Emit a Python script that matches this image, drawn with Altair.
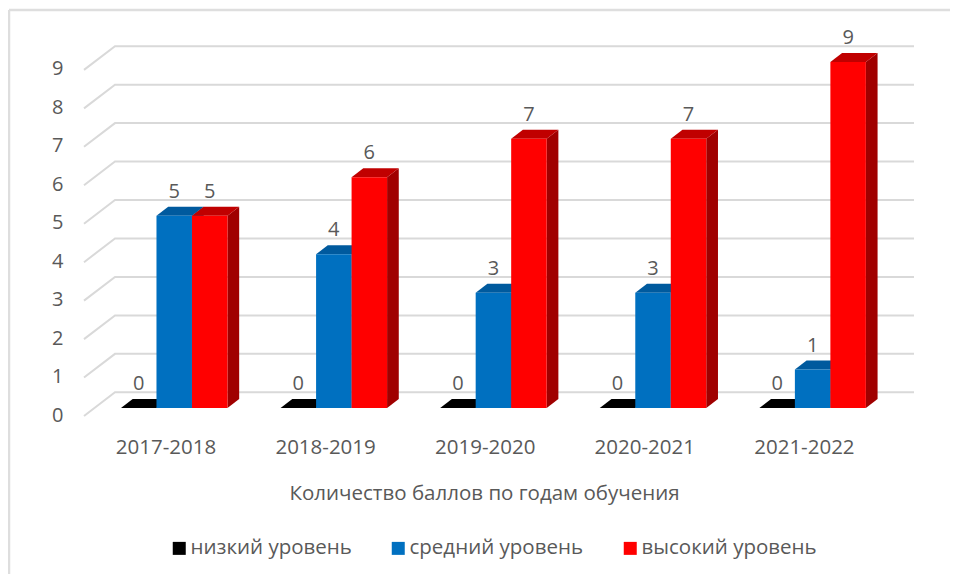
import altair as alt
import pandas as pd

years = ["2017-2018", "2018-2019", "2019-2020", "2020-2021", "2021-2022"]
series = ["низкий уровень", "средний уровень", "высокий уровень"]
low = [0, 0, 0, 0, 0]
mid = [5, 4, 3, 3, 1]
high = [5, 6, 7, 7, 9]
front_colors = ["#000000", "#0070C0", "#FF0000"]
top_colors = ["#000000", "#005A9E", "#C00000"]
side_colors = ["#000000", "#004F8C", "#A00000"]
levels = list(range(10))
FONT = "Open Sans"
TXT = "#595959"

PITCH = 159.6
UNIT = 38.45
dx = 11.7 / PITCH
dy = 9.0 / UNIT
bw = 35.5 / PITCH
start = -0.279
XMIN, XMAX = -0.5107, 4.6898
YMIN, YMAX = -0.208, 10.09
xs = alt.Scale(domain=[XMIN, XMAX], nice=False, zero=False)
ys = alt.Scale(domain=[YMIN, YMAX], nice=False, zero=False)

# outer frame of the picture: top and left edges only
frame_top = alt.Chart(pd.DataFrame({"a": [0]})).mark_rule(color="#DEDEDE", strokeWidth=2.5).encode(
    x=alt.value(-75), x2=alt.value(866), y=alt.value(-10))
frame_left = alt.Chart(pd.DataFrame({"a": [0]})).mark_rule(color="#DEDEDE", strokeWidth=2.5).encode(
    x=alt.value(-75), y=alt.value(-10), y2=alt.value(554))

# gridlines: side wall + back wall
gr = []
wall_x = XMIN + 31 / PITCH
wall_up = 15.7 / UNIT
for v in levels:
    gr += [dict(k=v, x=XMIN, y=v - 8 / UNIT), dict(k=v, x=wall_x, y=v + wall_up), dict(k=v, x=XMAX, y=v + wall_up)]
grid = alt.Chart(pd.DataFrame(gr)).mark_line(color="#D9D9D9", strokeWidth=2).encode(
    x=alt.X("x:Q", scale=xs, axis=alt.Axis(
        values=list(range(5)), labelExpr="%s[datum.value]" % str(years),
        title="Количество баллов по годам обучения", grid=False, domain=False, ticks=False,
        labelFontSize=20.5, labelColor=TXT, labelFont=FONT, labelPadding=21,
        titleFontSize=20.5, titleColor=TXT, titleFont=FONT, titleFontWeight="normal",
        titlePadding=26, titleX=484 - 84, labelFlush=False)),
    y=alt.Y("y:Q", scale=ys, axis=alt.Axis(
        values=levels, format="d", title=None, grid=False, domain=False, ticks=False,
        labelFontSize=20, labelColor=TXT, labelFont=FONT, labelPadding=21, labelOffset=7)),
    detail="k:N", order=alt.Order("x:Q"))

values = [low, mid, high]
layers = [grid, frame_top, frame_left]
for s, name in enumerate(series):
    fr, tp, sd, lb = [], [], [], []
    for g in range(len(years)):
        v = values[s][g]
        x0 = g + start + s * bw
        x1 = x0 + bw
        fr.append(dict(s=name, g=g, x=x0, x2=x1, y=0, y2=v))
        lb.append(dict(x=(x0 + x1) / 2, y=v, t=str(v)))
        tp += [dict(g=g, x=x0, y=v, y2=v), dict(g=g, x=x0 + dx, y=v, y2=v + dy),
               dict(g=g, x=x1, y=v, y2=v + dy), dict(g=g, x=x1 + dx, y=v + dy, y2=v + dy)]
        sd += [dict(g=g, x=x1, y=0, y2=v), dict(g=g, x=x1 + dx, y=dy, y2=v + dy)]
    if s > 0:
        layers.append(alt.Chart(pd.DataFrame(sd)).mark_area(color=side_colors[s], orient="vertical").encode(
            x=alt.X("x:Q", scale=xs), y=alt.Y("y:Q", scale=ys, stack=False), y2="y2:Q", detail="g:N"))
    layers.append(alt.Chart(pd.DataFrame(tp)).mark_area(color=top_colors[s], orient="vertical").encode(
        x=alt.X("x:Q", scale=xs), y=alt.Y("y:Q", scale=ys, stack=False), y2="y2:Q", detail="g:N"))
    layers.append(alt.Chart(pd.DataFrame(fr)).mark_rect().encode(
        x=alt.X("x:Q", scale=xs), x2="x2:Q", y=alt.Y("y:Q", scale=ys), y2="y2:Q",
        color=alt.Color("s:N", scale=alt.Scale(domain=series, range=front_colors), legend=alt.Legend(
            title=None, orient="none", legendX=172 - 84 - 3, legendY=538 - 20, direction="horizontal",
            symbolType="square", symbolSize=169, symbolStrokeWidth=0, labelFontSize=20.5, labelColor=TXT, labelFont=FONT,
            columnPadding=36, labelOffset=1, labelLimit=400, columns=3))))
    layers.append(alt.Chart(pd.DataFrame(lb)).mark_text(fontSize=20, font=FONT, color=TXT, dy=-24).encode(
        x=alt.X("x:Q", scale=xs), y=alt.Y("y:Q", scale=ys), text="t:N"))

chart = alt.layer(*layers).properties(
    width=830, height=396,
    autosize=alt.AutoSizeParams(type="none"),
    padding={"left": 76, "top": 12, "right": 36, "bottom": 160},
    background="white",
).configure_view(stroke=None)
chart.save("out.html", embed_options={"renderer": "svg", "actions": False})
